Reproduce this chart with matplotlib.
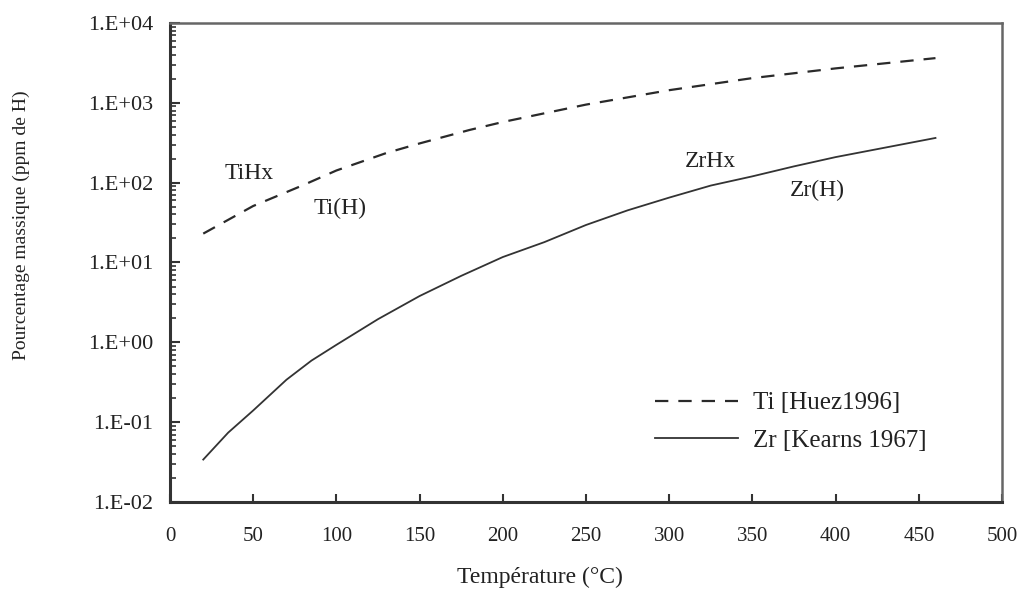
import numpy as np
import matplotlib
matplotlib.use('Agg')
import matplotlib.pyplot as plt
from matplotlib.ticker import LogLocator, FixedLocator, NullFormatter

plt.rcParams['font.family'] = ['Liberation Serif', 'DejaVu Serif']

# Ti [Huez1996]
temp_ti = [20, 50, 80, 100, 130, 150, 180, 200, 250, 300, 350, 400, 460]
ppm_ti = [23, 51, 93, 142, 235, 310, 457, 575, 950, 1440, 2040, 2700, 3630]

# Zr [Kearns 1967]
temp_zr = [20, 35, 50, 70, 85, 100, 125, 150, 175, 200, 225, 250, 275, 300,
           325, 350, 375, 400, 425, 460]
ppm_zr = [0.034, 0.074, 0.14, 0.34, 0.59, 0.93, 1.95, 3.8, 6.8, 11.7, 18,
          29.5, 45, 65, 92, 120, 160, 209, 263, 363]

x_ticks = [0, 50, 100, 150, 200, 250, 300, 350, 400, 450, 500]
y_ticks = [1e-2, 1e-1, 1e0, 1e1, 1e2, 1e3, 1e4]
y_ticklabels = ['1.E-02', '1.E-01', '1.E+00', '1.E+01', '1.E+02', '1.E+03', '1.E+04']

txt = '#222222'

fig = plt.figure(figsize=(10.27, 5.94), dpi=100)
ax = fig.add_axes([0.1655, 0.1549, 0.8102, 0.8064])

ax.plot(temp_ti, ppm_ti, color='#2a2a2a', lw=1.6, dashes=(6, 4.5),
        label='Ti [Huez1996]')
ax.plot(temp_zr, ppm_zr, color='#333333', lw=1.3, label='Zr [Kearns 1967]')

ax.set_yscale('log')
ax.set_xlim(0, 500)
ax.set_ylim(1e-2, 1e4)

ax.xaxis.set_major_locator(FixedLocator(x_ticks))
ax.set_yticks(y_ticks)
ax.set_yticklabels(y_ticklabels)
ax.yaxis.set_minor_locator(LogLocator(base=10, subs=np.arange(2, 10), numticks=20))
ax.yaxis.set_minor_formatter(NullFormatter())

ax.tick_params(axis='x', which='major', direction='in', length=6, width=1.5,
               pad=18, labelsize=15, colors='#333333', labelcolor=txt,
               top=False)
ax.tick_params(axis='y', which='major', direction='in', length=7, width=1.5,
               pad=12, labelsize=16, colors='#333333', labelcolor=txt,
               right=False)
ax.tick_params(axis='y', which='minor', direction='in', length=4.5, width=1.2,
               colors='#333333', right=False)

for side in ['left', 'bottom']:
    ax.spines[side].set_linewidth(2.2)
    ax.spines[side].set_color('#333333')
for side in ['top', 'right']:
    ax.spines[side].set_linewidth(1.8)
    ax.spines[side].set_color('#666666')

ax.set_xlabel('Température (°C)', fontsize=17, color=txt)
ax.xaxis.set_label_coords(0.445, -0.135)
ax.set_ylabel('Pourcentage massique (ppm de H)', fontsize=14, color=txt)
ax.yaxis.set_label_coords(-0.168, 0.578)

ax.text(47.5, 132, 'TiHx', fontsize=17, color=txt, ha='center', va='center')
ax.text(102, 48, 'Ti(H)', fontsize=17, color=txt, ha='center', va='center')
ax.text(325, 182, 'ZrHx', fontsize=17, color=txt, ha='center', va='center')
ax.text(389, 81, 'Zr(H)', fontsize=17, color=txt, ha='center', va='center')

leg = ax.legend(loc='center left', bbox_to_anchor=(0.583, 0.167), frameon=False,
                fontsize=18, handlelength=3.3, handletextpad=0.6,
                labelspacing=0.6, borderpad=0, borderaxespad=0)
for t in leg.get_texts():
    t.set_color(txt)

fig.savefig('out.png', dpi=100, facecolor='white')
